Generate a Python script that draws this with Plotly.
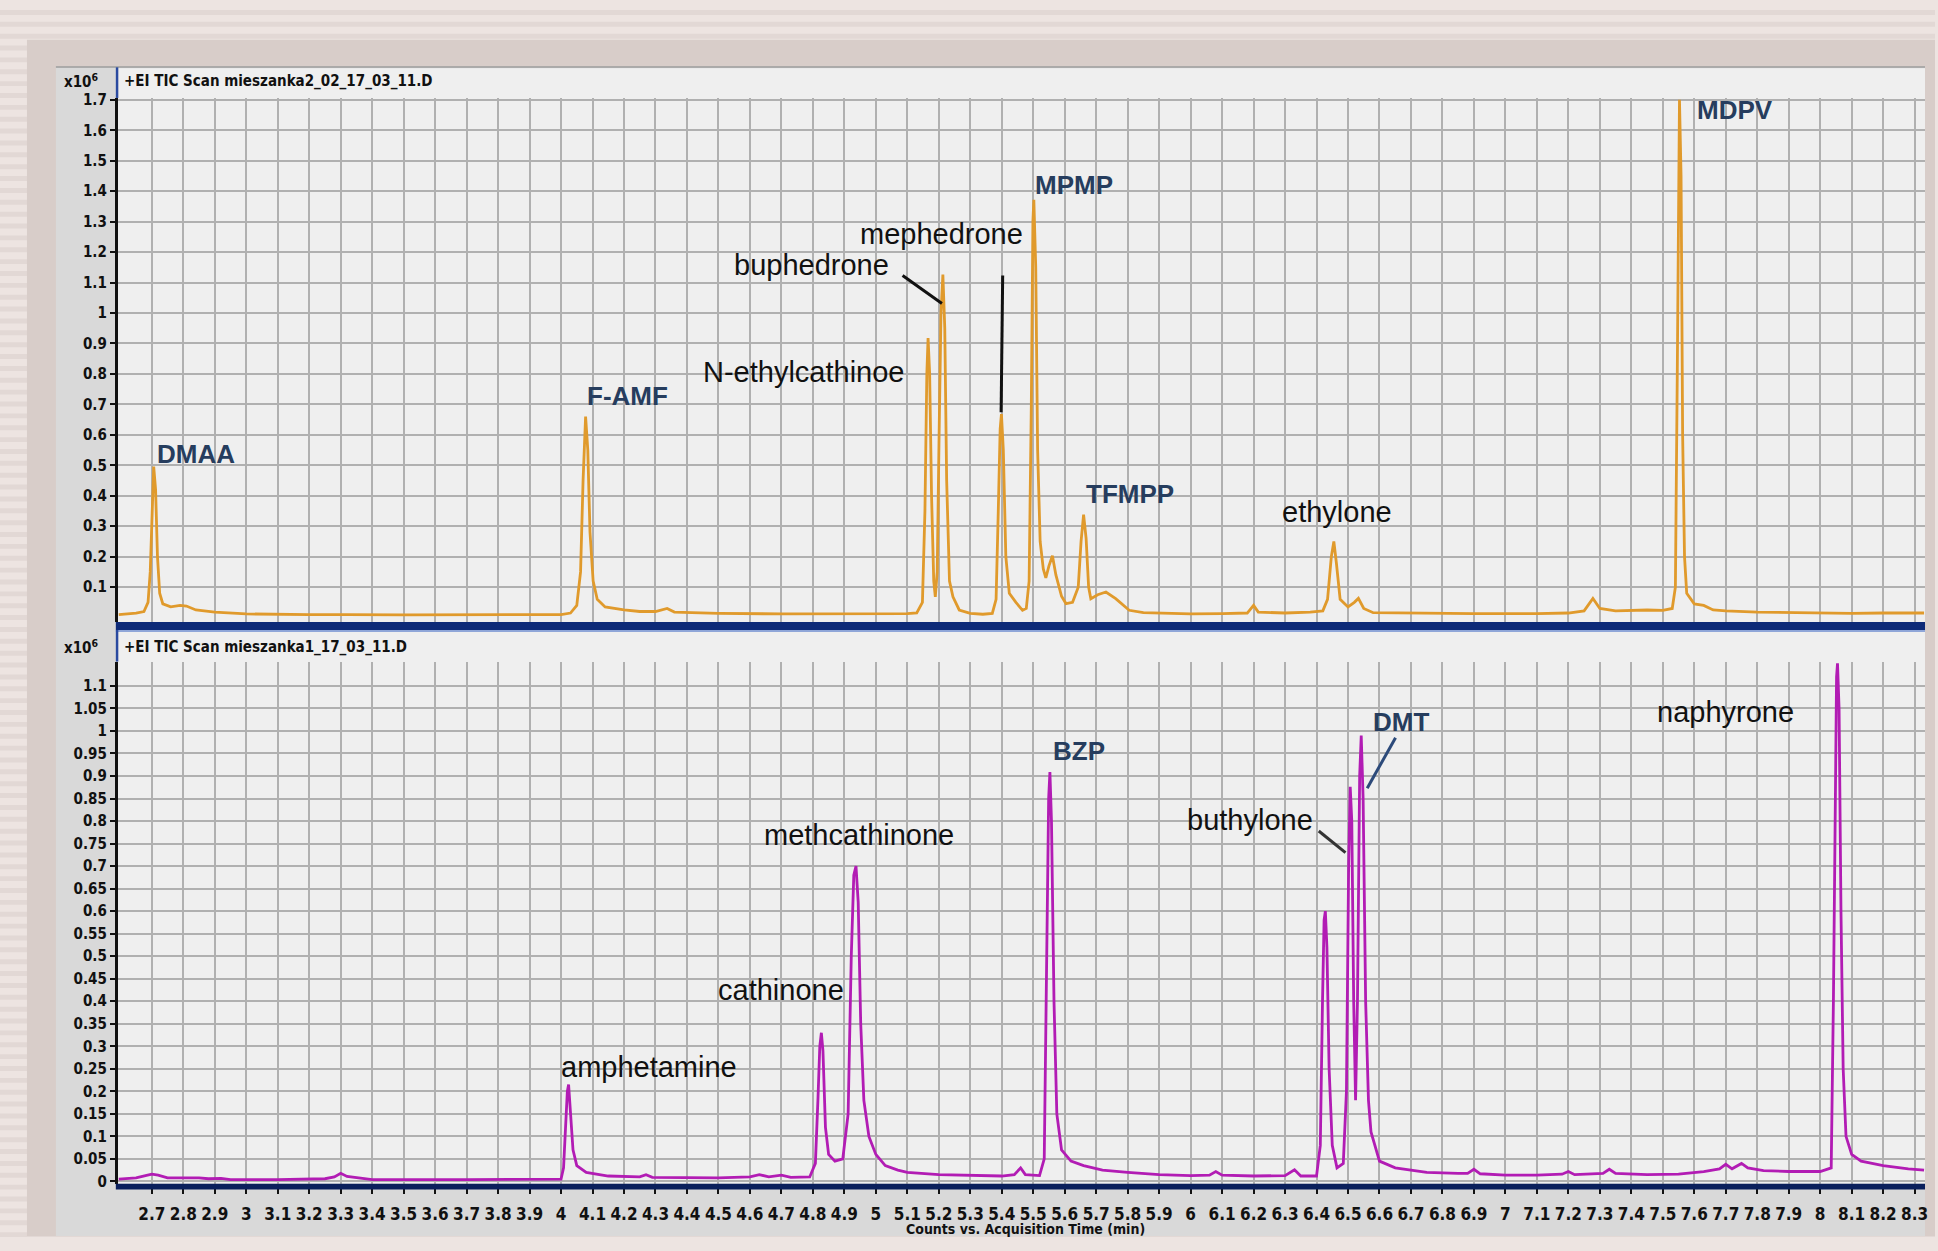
import plotly.graph_objects as go

# ---------------------------------------------------------------------------
# Chromatogram data (retention time in min, counts in units of 10^6)
# ---------------------------------------------------------------------------
mix2_time = [
    2.595, 2.62, 2.65, 2.675, 2.688, 2.695, 2.700, 2.706, 2.712, 2.718, 2.725,
    2.735, 2.76, 2.79, 2.81, 2.84, 2.90, 2.95, 3.0, 3.2, 3.3, 3.32, 3.5, 3.7,
    3.9, 4.0, 4.03, 4.05, 4.062, 4.070, 4.078, 4.085, 4.092, 4.102, 4.115,
    4.14, 4.2, 4.25, 4.3, 4.337, 4.36, 4.5, 4.7, 4.9, 5.0, 5.1, 5.13, 5.148,
    5.156, 5.162, 5.166, 5.171, 5.177, 5.184, 5.189, 5.195, 5.201, 5.207,
    5.213, 5.219, 5.225, 5.234, 5.245, 5.265, 5.3, 5.34, 5.37, 5.382, 5.389,
    5.395, 5.399, 5.405, 5.413, 5.424, 5.445, 5.466, 5.478, 5.487, 5.494,
    5.499, 5.502, 5.508, 5.514, 5.522, 5.532, 5.540, 5.550, 5.561, 5.572,
    5.590, 5.604, 5.625, 5.643, 5.652, 5.660, 5.668, 5.676, 5.683, 5.705,
    5.731, 5.762, 5.805, 5.85, 5.9, 5.95, 6.0, 6.1, 6.18, 6.20, 6.215, 6.3,
    6.38, 6.42, 6.435, 6.447, 6.455, 6.463, 6.475, 6.50, 6.52, 6.533, 6.55,
    6.58, 6.7, 6.9, 7.1, 7.2, 7.25, 7.278, 7.30, 7.35, 7.45, 7.50, 7.53, 7.54,
    7.546, 7.550, 7.553, 7.558, 7.563, 7.569, 7.576, 7.60, 7.63, 7.66, 7.7,
    7.8, 8.0, 8.1, 8.2, 8.33,
]
mix2_counts = [
    0.010, 0.012, 0.015, 0.020, 0.05, 0.15, 0.35, 0.496, 0.42, 0.20, 0.08,
    0.045, 0.035, 0.04, 0.038, 0.025, 0.018, 0.015, 0.012, 0.010, 0.012, 0.010,
    0.009, 0.010, 0.009, 0.010, 0.015, 0.04, 0.15, 0.45, 0.66, 0.55, 0.28,
    0.12, 0.06, 0.035, 0.025, 0.02, 0.02, 0.03, 0.018, 0.014, 0.012, 0.012,
    0.013, 0.013, 0.015, 0.05, 0.35, 0.80, 0.918, 0.80, 0.40, 0.12, 0.068,
    0.15, 0.60, 1.00, 1.126, 0.95, 0.45, 0.12, 0.068, 0.025, 0.014, 0.011,
    0.014, 0.06, 0.35, 0.62, 0.668, 0.55, 0.20, 0.08, 0.05, 0.024, 0.03, 0.12,
    0.70, 1.30, 1.372, 1.15, 0.55, 0.25, 0.16, 0.13, 0.17, 0.203, 0.14, 0.07,
    0.046, 0.05, 0.10, 0.25, 0.338, 0.26, 0.10, 0.062, 0.075, 0.084, 0.062,
    0.024, 0.016, 0.014, 0.014, 0.012, 0.013, 0.015, 0.040, 0.018, 0.015,
    0.018, 0.022, 0.06, 0.20, 0.25, 0.18, 0.06, 0.035, 0.05, 0.063, 0.03,
    0.016, 0.014, 0.013, 0.013, 0.015, 0.022, 0.063, 0.03, 0.022, 0.025,
    0.024, 0.03, 0.10, 0.80, 1.50, 1.70, 1.45, 0.60, 0.20, 0.08, 0.045, 0.04,
    0.025, 0.022, 0.018, 0.015, 0.014, 0.015, 0.015,
]

mix1_time = [
    2.595, 2.65, 2.68, 2.70, 2.72, 2.75, 2.85, 2.88, 2.92, 2.95, 3.1, 3.25,
    3.28, 3.30, 3.32, 3.36, 3.40, 3.7, 4.0, 4.008, 4.015, 4.020, 4.024, 4.030,
    4.038, 4.05, 4.08, 4.15, 4.25, 4.27, 4.29, 4.5, 4.6, 4.63, 4.66, 4.70,
    4.73, 4.79, 4.808, 4.816, 4.822, 4.827, 4.832, 4.840, 4.850, 4.87, 4.895,
    4.912, 4.922, 4.930, 4.937, 4.944, 4.952, 4.962, 4.978, 5.0, 5.03, 5.07,
    5.1, 5.2, 5.3, 5.4, 5.44, 5.46, 5.475, 5.52, 5.535, 5.543, 5.549, 5.553,
    5.558, 5.566, 5.575, 5.59, 5.62, 5.66, 5.72, 5.8, 5.9, 6.0, 6.06, 6.08,
    6.10, 6.2, 6.3, 6.33, 6.35, 6.40, 6.412, 6.419, 6.424, 6.428, 6.433, 6.440,
    6.450, 6.465, 6.485, 6.495, 6.502, 6.507, 6.512, 6.518, 6.524, 6.530,
    6.537, 6.542, 6.548, 6.556, 6.565, 6.573, 6.60, 6.65, 6.75, 6.85, 6.88,
    6.90, 6.92, 7.0, 7.1, 7.18, 7.20, 7.22, 7.31, 7.33, 7.35, 7.45, 7.55, 7.63,
    7.68, 7.70, 7.72, 7.75, 7.77, 7.82, 7.9, 8.0, 8.035, 8.042, 8.048, 8.052,
    8.055, 8.060, 8.066, 8.073, 8.082, 8.10, 8.13, 8.2, 8.28, 8.33,
]
mix1_counts = [
    0.005, 0.008, 0.013, 0.016, 0.014, 0.008, 0.008, 0.006, 0.007, 0.004,
    0.004, 0.006, 0.010, 0.018, 0.011, 0.008, 0.004, 0.004, 0.005, 0.03, 0.12,
    0.20, 0.215, 0.16, 0.07, 0.035, 0.02, 0.012, 0.010, 0.015, 0.009, 0.008,
    0.010, 0.015, 0.010, 0.014, 0.009, 0.010, 0.04, 0.18, 0.30, 0.33, 0.29,
    0.12, 0.06, 0.045, 0.05, 0.15, 0.50, 0.68, 0.70, 0.62, 0.35, 0.18, 0.10,
    0.06, 0.035, 0.025, 0.02, 0.015, 0.013, 0.012, 0.015, 0.03, 0.015, 0.013,
    0.05, 0.45, 0.85, 0.909, 0.80, 0.40, 0.15, 0.07, 0.045, 0.035, 0.025,
    0.02, 0.015, 0.013, 0.014, 0.022, 0.014, 0.012, 0.013, 0.026, 0.012,
    0.012, 0.08, 0.40, 0.58, 0.60, 0.52, 0.25, 0.08, 0.03, 0.04, 0.20, 0.70,
    0.876, 0.80, 0.40, 0.18, 0.40, 0.90, 0.99, 0.85, 0.40, 0.18, 0.11, 0.045,
    0.03, 0.02, 0.018, 0.018, 0.027, 0.017, 0.014, 0.014, 0.016, 0.022, 0.015,
    0.018, 0.027, 0.018, 0.015, 0.016, 0.022, 0.028, 0.038, 0.028, 0.04, 0.03,
    0.024, 0.022, 0.022, 0.03, 0.40, 0.95, 1.12, 1.15, 1.05, 0.60, 0.25, 0.10,
    0.06, 0.045, 0.035, 0.028, 0.025,
]

# Compound labels: (name, time of left edge, counts at text middle, style)
mix2_labels = [
    ("DMAA", 2.714, 0.536, "navy"),
    ("F-AMF", 4.078, 0.729, "navy"),
    ("N-ethylcathinoe", 4.447, 0.805, "plain"),
    ("buphedrone", 4.545, 1.158, "plain"),
    ("mephedrone", 4.945, 1.258, "plain"),
    ("MPMP", 5.502, 1.419, "navy"),
    ("TFMPP", 5.663, 0.407, "navy"),
    ("ethylone", 6.286, 0.347, "plain"),
    ("MDPV", 7.604, 1.668, "navy"),
]
mix1_labels = [
    ("amphetamine", 3.996, 0.255, "plain"),
    ("cathinone", 4.494, 0.426, "plain"),
    ("methcathinone", 4.643, 0.768, "plain"),
    ("BZP", 5.561, 0.955, "navy"),
    ("buthylone", 5.984, 0.803, "plain"),
    ("DMT", 6.576, 1.020, "navy"),
    ("naphyrone", 7.478, 1.042, "plain"),
]

# Leader lines from label to peak: (t0, c0, t1, c1, colour)
mix2_leaders = [
    (5.085, 1.123, 5.210, 1.031, "#111111"),
    (5.403, 1.123, 5.398, 0.674, "#111111"),
]
mix1_leaders = [
    (6.407, 0.778, 6.492, 0.730, "#333333"),
    (6.651, 0.985, 6.561, 0.873, "#2c4a7a"),
]

time_tick_labels = [
    "2.7", "2.8", "2.9", "3", "3.1", "3.2", "3.3", "3.4", "3.5", "3.6", "3.7",
    "3.8", "3.9", "4", "4.1", "4.2", "4.3", "4.4", "4.5", "4.6", "4.7", "4.8",
    "4.9", "5", "5.1", "5.2", "5.3", "5.4", "5.5", "5.6", "5.7", "5.8", "5.9",
    "6", "6.1", "6.2", "6.3", "6.4", "6.5", "6.6", "6.7", "6.8", "6.9", "7",
    "7.1", "7.2", "7.3", "7.4", "7.5", "7.6", "7.7", "7.8", "7.9", "8", "8.1",
    "8.2", "8.3",
]
mix2_count_ticks = [
    "0.1", "0.2", "0.3", "0.4", "0.5", "0.6", "0.7", "0.8", "0.9", "1", "1.1",
    "1.2", "1.3", "1.4", "1.5", "1.6", "1.7",
]
mix1_count_ticks = [
    "0", "0.05", "0.1", "0.15", "0.2", "0.25", "0.3", "0.35", "0.4", "0.45",
    "0.5", "0.55", "0.6", "0.65", "0.7", "0.75", "0.8", "0.85", "0.9", "0.95",
    "1", "1.05", "1.1",
]

# ---------------------------------------------------------------------------
# Page geometry (pixels)
# ---------------------------------------------------------------------------
W, H = 1938, 1251
AX_L, AX_R = 118, 1928
TOP_Y0, TOP_Y1 = 92, 622
BOT_Y0, BOT_Y1 = 662, 1190


def px(x):
    return x / W


def py(y):
    return 1 - y / H


NARROW = "Liberation Sans Narrow, DejaVu Sans Condensed, Arial Narrow, sans-serif"
SANS = "Liberation Sans, Arial, sans-serif"
NAVY_TXT = "#263d5e"
GRID = "#b0b0b0"

fig = go.Figure()
fig.add_trace(go.Scatter(
    x=mix2_time, y=mix2_counts, mode="lines", xaxis="x", yaxis="y",
    line=dict(color="#e09a2c", width=2.8), hoverinfo="skip", showlegend=False,
))
fig.add_trace(go.Scatter(
    x=mix1_time, y=mix1_counts, mode="lines", xaxis="x2", yaxis="y2",
    line=dict(color="#b21cb4", width=2.8), hoverinfo="skip", showlegend=False,
))

tick_vals = [float(s) for s in time_tick_labels]
x_range = [2.592, 8.333]
common_x = dict(
    domain=[px(AX_L), px(AX_R)], range=x_range, tickvals=tick_vals,
    showgrid=True, gridcolor=GRID, gridwidth=1.5, zeroline=False,
    showline=False, fixedrange=True,
)
tick_font = dict(family=NARROW, size=15, color="#111111", weight="bold")

fig.update_layout(
    width=W, height=H, margin=dict(l=0, r=0, t=0, b=0),
    paper_bgcolor="#ede4e1", plot_bgcolor="rgba(0,0,0,0)",
    showlegend=False,
    xaxis=dict(common_x, anchor="y", showticklabels=False, ticks=""),
    xaxis2=dict(
        common_x, anchor="y2", ticktext=time_tick_labels, ticks="outside",
        ticklen=9, tickwidth=2, tickcolor="#111111", ticklabelstandoff=6,
        tickfont=dict(family=NARROW, size=17, color="#111111", weight="bold"),
    ),
    yaxis=dict(
        domain=[py(TOP_Y1), py(TOP_Y0)], range=[-0.0146, 1.706], anchor="x",
        tickvals=[float(s) for s in mix2_count_ticks], ticktext=mix2_count_ticks,
        ticks="outside", ticklen=5, tickwidth=2, tickcolor="#111111",
        tickfont=tick_font,
        showline=True, linecolor="#111111", linewidth=3,
        showgrid=True, gridcolor=GRID, gridwidth=1.5, zeroline=False,
        fixedrange=True,
    ),
    yaxis2=dict(
        domain=[py(BOT_Y1), py(BOT_Y0)], range=[-0.005, 1.154], anchor="x2",
        tickvals=[float(s) for s in mix1_count_ticks], ticktext=mix1_count_ticks,
        ticks="outside", ticklen=5, tickwidth=2, tickcolor="#111111",
        tickfont=tick_font,
        showline=True, linecolor="#111111", linewidth=3,
        showgrid=True, gridcolor=GRID, gridwidth=1.5, zeroline=False,
        fixedrange=True,
    ),
)

# ---------------------------------------------------------------------------
# Window furniture: striped page, beige frame, grey chart window
# ---------------------------------------------------------------------------
shapes = []


def rect(x0, y0, x1, y1, color, layer="below"):
    shapes.append(dict(
        type="rect", xref="paper", yref="paper", x0=px(x0), x1=px(x1),
        y0=py(y1), y1=py(y0), fillcolor=color, line=dict(width=0), layer=layer,
    ))


for yy in range(3, H, 12):
    rect(0, yy, W, yy + 5, "#e2d8d5")
rect(27, 33, W, 1243, "#d8cdc9")
rect(56, 61, 1928, 1243, "#d9d9d9")
rect(56, 60, 1928, 61.5, "#9c9c9c")
rect(AX_L, 62, AX_R, TOP_Y1, "#efefef")
rect(AX_L, 630, AX_R, BOT_Y1, "#efefef")

# navy separators under each panel
rect(AX_L - 2, TOP_Y1, AX_R, TOP_Y1 + 8, "#0d2a78", layer="above")
rect(AX_L - 2, TOP_Y1 + 8, AX_R, TOP_Y1 + 10, "#8fa6d8", layer="above")
rect(AX_L - 2, BOT_Y1, AX_R, BOT_Y1 + 6, "#0a1f5c", layer="above")
# blue frame edge beside each panel header
rect(AX_L - 2, 61, AX_L + 0.5, TOP_Y0, "#2a4aa0", layer="above")
rect(AX_L - 2, 630, AX_L + 0.5, BOT_Y0, "#2a4aa0", layer="above")

# leader lines in data coordinates
for (t0, c0, t1, c1, col) in mix2_leaders:
    shapes.append(dict(type="line", xref="x", yref="y", x0=t0, y0=c0, x1=t1,
                       y1=c1, line=dict(color=col, width=3), layer="above"))
for (t0, c0, t1, c1, col) in mix1_leaders:
    shapes.append(dict(type="line", xref="x2", yref="y2", x0=t0, y0=c0, x1=t1,
                       y1=c1, line=dict(color=col, width=3), layer="above"))

fig.update_layout(shapes=shapes)

# ---------------------------------------------------------------------------
# Text
# ---------------------------------------------------------------------------
annotations = []


def label(name, t, c, style, xref, yref):
    if style == "navy":
        font = dict(family=SANS, size=26, color=NAVY_TXT, weight="bold")
    else:
        font = dict(family=SANS, size=29, color="#111111")
    annotations.append(dict(
        text=name, x=t, y=c, xref=xref, yref=yref, xanchor="left",
        yanchor="middle", showarrow=False, font=font, borderpad=0,
    ))


for (name, t, c, style) in mix2_labels:
    label(name, t, c, style, "x", "y")
for (name, t, c, style) in mix1_labels:
    label(name, t, c, style, "x2", "y2")

header_font = dict(family=NARROW, size=15, color="#111111", weight="bold")
for (text, yy) in [("+EI TIC Scan mieszanka2_02_17_03_11.D", 75),
                   ("+EI TIC Scan mieszanka1_17_03_11.D", 647)]:
    annotations.append(dict(
        text=text, x=px(122), y=py(yy), xref="paper", yref="paper",
        xanchor="left", yanchor="middle", showarrow=False, font=header_font,
    ))
    annotations.append(dict(
        text="x10<sup>6</sup>", x=px(100), y=py(yy), xref="paper", yref="paper",
        xanchor="right", yanchor="middle", showarrow=False, font=header_font,
    ))

annotations.append(dict(
    text="Counts vs. Acquisition Time (min)", x=px(1027), y=py(1236),
    xref="paper", yref="paper", xanchor="center", yanchor="middle",
    showarrow=False, font=dict(family=NARROW, size=14, color="#111111",
                               weight="bold"),
))

fig.update_layout(annotations=annotations)

fig.write_html("out.html")
